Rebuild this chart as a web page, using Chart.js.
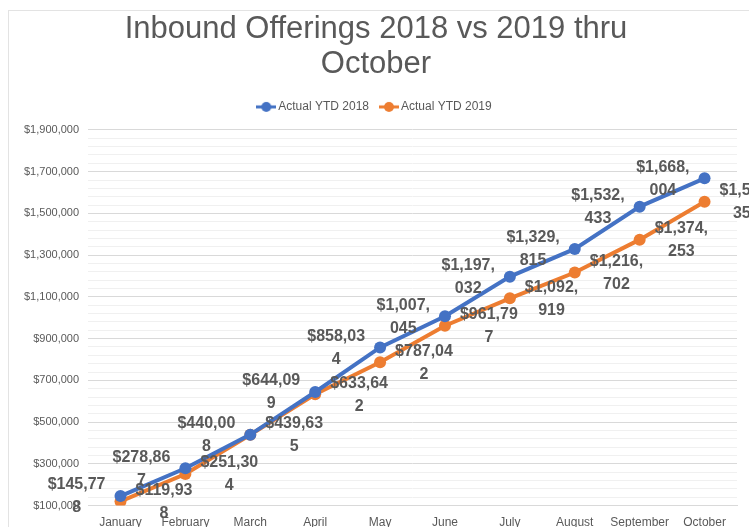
<!DOCTYPE html>
<html>
<head>
<meta charset="utf-8">
<script src="https://cdn.jsdelivr.net/npm/chart.js@4"></script>
<style>
  html, body { margin: 0; padding: 0; background: #fff; overflow: hidden; }
  #box { position: absolute; left: 8px; top: 10px; width: 760px; height: 540px; border: 1px solid #e3e3e3; box-sizing: border-box; }
  #wrap { position: absolute; left: 0; top: 0; width: 746px; height: 529px; }
</style>
</head>
<body>
<div id="box"><div id="wrap"><canvas id="offerings"></canvas></div></div>
<script>
const months = ["January", "February", "March", "April", "May", "June", "July", "August", "September", "October"];
const ytd2018 = [145778, 278867, 440008, 644099, 858034, 1007045, 1197032, 1329815, 1532433, 1668004];
const ytd2019 = [119938, 251304, 439635, 633642, 787042, 961797, 1092919, 1216702, 1374253, 1555353];
const seriesNames = ["Actual YTD 2018", "Actual YTD 2019"];
const colors = ["#4472C4", "#ED7D31"];

// legend marker: short line with a dot, like excel
function legendIcon(color) {
  const c = document.createElement("canvas");
  c.width = 20; c.height = 12;
  const g = c.getContext("2d");
  g.strokeStyle = color; g.lineWidth = 3;
  g.beginPath(); g.moveTo(0, 6); g.lineTo(20, 6); g.stroke();
  g.fillStyle = color;
  g.beginPath(); g.arc(10, 6, 5, 0, Math.PI * 2); g.fill();
  return c;
}

const money = v => "$" + v.toLocaleString("en-US");

// excel wraps the data labels, draw them by hand (left for 2018, right for 2019)
const dataLabels = {
  id: "dataLabels",
  afterDatasetsDraw(chart) {
    const ctx = chart.ctx;
    ctx.save();
    ctx.font = "bold 16px 'Liberation Sans', Arial, sans-serif";
    ctx.fillStyle = "#595959";
    ctx.textAlign = "center";
    ctx.textBaseline = "middle";
    chart.data.datasets.forEach((ds, i) => {
      const meta = chart.getDatasetMeta(i);
      meta.data.forEach((pt, j) => {
        const s = money(ds.data[j]);
        const lines = [s.slice(0, 7), s.slice(7)];
        const w = Math.max(...lines.map(l => ctx.measureText(l).width));
        const cx = i === 0 ? pt.x - 15 - w / 2 : pt.x + 15 + w / 2;
        ctx.fillText(lines[0], cx, pt.y - 11);
        ctx.fillText(lines[1], cx, pt.y + 12);
      });
    });
    ctx.restore();
  }
};

new Chart("offerings", {
  type: "line",
  data: {
    labels: months,
    datasets: [
      { label: seriesNames[0], data: ytd2018, borderColor: colors[0], backgroundColor: colors[0],
        borderWidth: 4, pointRadius: 6, pointBackgroundColor: colors[0], pointBorderWidth: 0,
        pointStyle: "circle", tension: 0 },
      { label: seriesNames[1], data: ytd2019, borderColor: colors[1], backgroundColor: colors[1],
        borderWidth: 4, pointRadius: 6, pointBackgroundColor: colors[1], pointBorderWidth: 0,
        pointStyle: "circle", tension: 0 }
    ]
  },
  options: {
    responsive: true,
    maintainAspectRatio: false,
    animation: false,
    layout: { padding: { left: 6, right: 18, top: 0, bottom: 0 } },
    plugins: {
      tooltip: { enabled: false },
      title: {
        display: true,
        text: ["Inbound Offerings 2018 vs 2019 thru", "October"],
        color: "#595959",
        font: { family: "'Liberation Sans', Arial, sans-serif", size: 31, weight: "normal", lineHeight: 1.16 },
        padding: { top: 0, bottom: 4 }
      },
      legend: {
        labels: {
          color: "#595959",
          font: { family: "'Liberation Sans', Arial, sans-serif", size: 12 },
          usePointStyle: true,
          generateLabels(chart) {
            return chart.data.datasets.map((ds, i) => ({
              text: ds.label, datasetIndex: i, fontColor: "#595959",
              pointStyle: legendIcon(colors[i]), lineWidth: 0, hidden: false
            }));
          },
          boxWidth: 20, padding: 14
        }
      }
    },
    scales: {
      x: {
        offset: true,
        grid: { display: false, drawTicks: false },
        border: { color: "#d9d9d9" },
        ticks: { color: "#595959", font: { family: "'Liberation Sans', Arial, sans-serif", size: 12 }, padding: 10, maxRotation: 0, autoSkip: false }
      },
      // empty axis on top, only keeps a gap between legend and plot
      gap: {
        type: "category",
        position: "top",
        display: true,
        grid: { display: false, drawTicks: false },
        border: { display: false },
        ticks: { display: false },
        afterFit: scale => { scale.height = 7; }
      },
      y: {
        min: 100000,
        max: 1900000,
        border: { display: false },
        grid: {
          color: ctx => ((ctx.tick.value - 100000) % 200000 === 0 ? "#d9d9d9" : "#f0f0f0"),
          lineWidth: 1,
          drawTicks: false
        },
        ticks: {
          stepSize: 40000,
          autoSkip: false,
          padding: 9,
          color: "#595959",
          font: { family: "'Liberation Sans', Arial, sans-serif", size: 11 },
          callback: v => ((v - 100000) % 200000 === 0 ? money(v) : "")
        }
      }
    }
  },
  plugins: [dataLabels]
});
</script>
</body>
</html>
